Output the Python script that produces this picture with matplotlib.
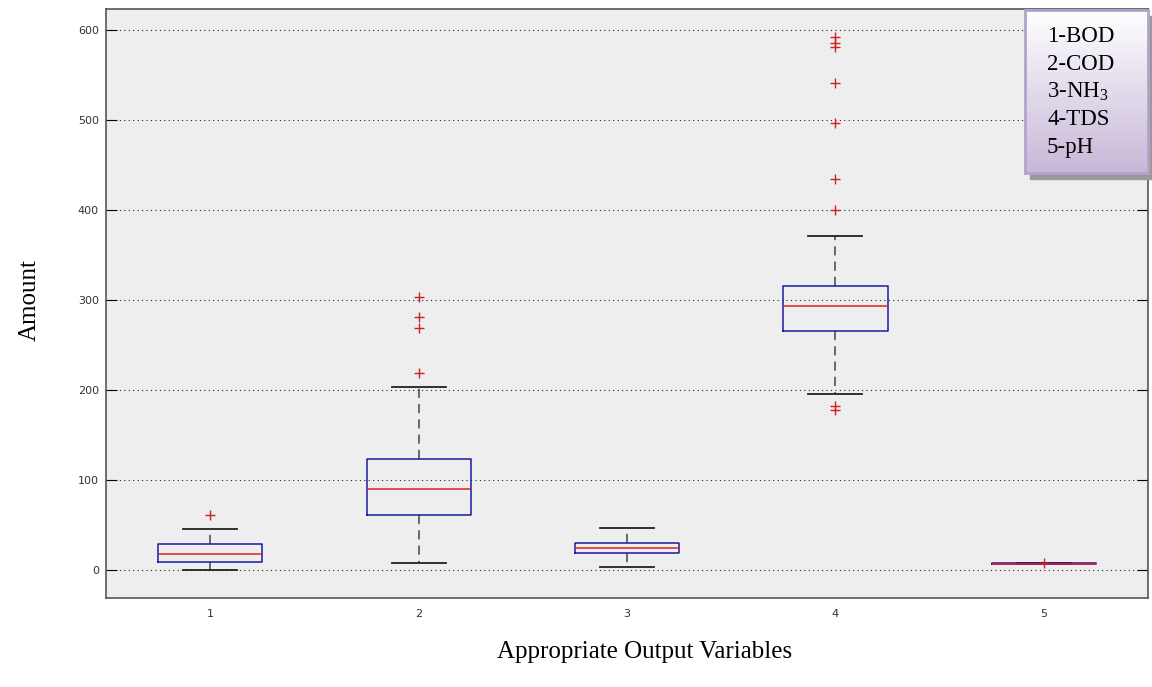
import numpy as np
import matplotlib.pyplot as plt
from matplotlib.patches import Rectangle

# Box statistics
positions = [1, 2, 3, 4, 5]
q1 = [9, 61, 19, 265.5, 6.8]
med = [18, 90, 24.4, 293, 7.3]
q3 = [29, 123, 30, 315.5, 7.6]
whislo = [0, 8, 3, 195.5, 6.2]
whishi = [45.5, 203, 47, 371, 8.4]
fliers = [
    [61],
    [219, 269, 281, 303],
    [],
    [178, 182, 400, 434, 496, 541, 581, 585, 592],
    [8.0],
]
legend_lines = ['1-BOD', '2-COD', r'3-NH$_3$', '4-TDS', '5-pH']

plt.rcParams['mathtext.fontset'] = 'custom'
plt.rcParams['mathtext.rm'] = 'Liberation Serif'
plt.rcParams['mathtext.it'] = 'Liberation Serif:italic'

fig = plt.figure(figsize=(11.52, 6.87), dpi=100)
ax = fig.add_axes([106 / 1152, 1 - 598 / 687, 1042 / 1152, 589 / 687])
ax.set_facecolor('#eeeeee')

stats = []
for i in range(len(positions)):
    stats.append(dict(q1=q1[i], med=med[i], q3=q3[i], whislo=whislo[i],
                      whishi=whishi[i], fliers=fliers[i]))

ax.bxp(stats, positions=positions, widths=0.5, showfliers=True,
       boxprops=dict(color='#1a1aa8', linewidth=1.1, zorder=3),
       medianprops=dict(color='#e02020', linewidth=1.1, zorder=4),
       whiskerprops=dict(color='#444444', linewidth=1.1, linestyle=(0, (6, 4))),
       capprops=dict(color='#222222', linewidth=1.3),
       flierprops=dict(marker='+', markeredgecolor='#d42020', markersize=7,
                       markeredgewidth=1.0, linestyle='none', zorder=5),
       capwidths=0.26)

ax.set_xlim(0.5, 5.5)
ax.set_ylim(-31, 623)
ax.set_yticks([0, 100, 200, 300, 400, 500, 600])
ax.set_xticks(positions)
ax.yaxis.grid(True, linestyle=(0, (1, 3)), color='#222222', linewidth=0.8)
ax.set_axisbelow(True)
ax.tick_params(axis='y', direction='in', length=8, right=True, labelsize=8,
               labelcolor='#333333', pad=5)
ax.tick_params(axis='x', direction='in', length=0, labelsize=8,
               labelcolor='#333333', pad=8)
for s in ax.spines.values():
    s.set_color('#555555')
    s.set_linewidth(1.2)

fig.text(645 / 1152, 1 - 652 / 687, 'Appropriate Output Variables',
         family='Liberation Serif', fontsize=18, ha='center', va='center')
fig.text(30 / 1152, 1 - 300 / 687, 'Amount', family='Liberation Serif',
         fontsize=18, rotation=90, ha='center', va='center')

# legend box with shadow and gradient
bx0, by0, bw, bh = 1025, 10, 123, 163
shadow = Rectangle(((bx0 + 5) / 1152, 1 - (by0 + bh + 6) / 687), bw / 1152,
                   bh / 687, transform=fig.transFigure, color='#999999',
                   zorder=5)
fig.patches.append(shadow)
lax = fig.add_axes([bx0 / 1152, 1 - (by0 + bh) / 687, bw / 1152, bh / 687],
                   zorder=6)
grad = np.linspace(0, 1, 256).reshape(-1, 1)
top = np.array([1.0, 1.0, 1.0])
bot = np.array([0.78, 0.72, 0.85])
img = top + (bot - top) * grad[:, :, None]
lax.imshow(img, aspect='auto', extent=[0, 1, 0, 1], origin='upper')
lax.set_xticks([])
lax.set_yticks([])
for s in lax.spines.values():
    s.set_color('#b3a3cc')
    s.set_linewidth(2)
for i, t in enumerate(legend_lines):
    lax.text(22 / bw, 1 - (37 - by0 + 27.5 * i) / bh, t,
             family='Liberation Serif', fontsize=16.5, ha='left',
             va='center', transform=lax.transAxes)

fig.savefig('out.png', dpi=100)
